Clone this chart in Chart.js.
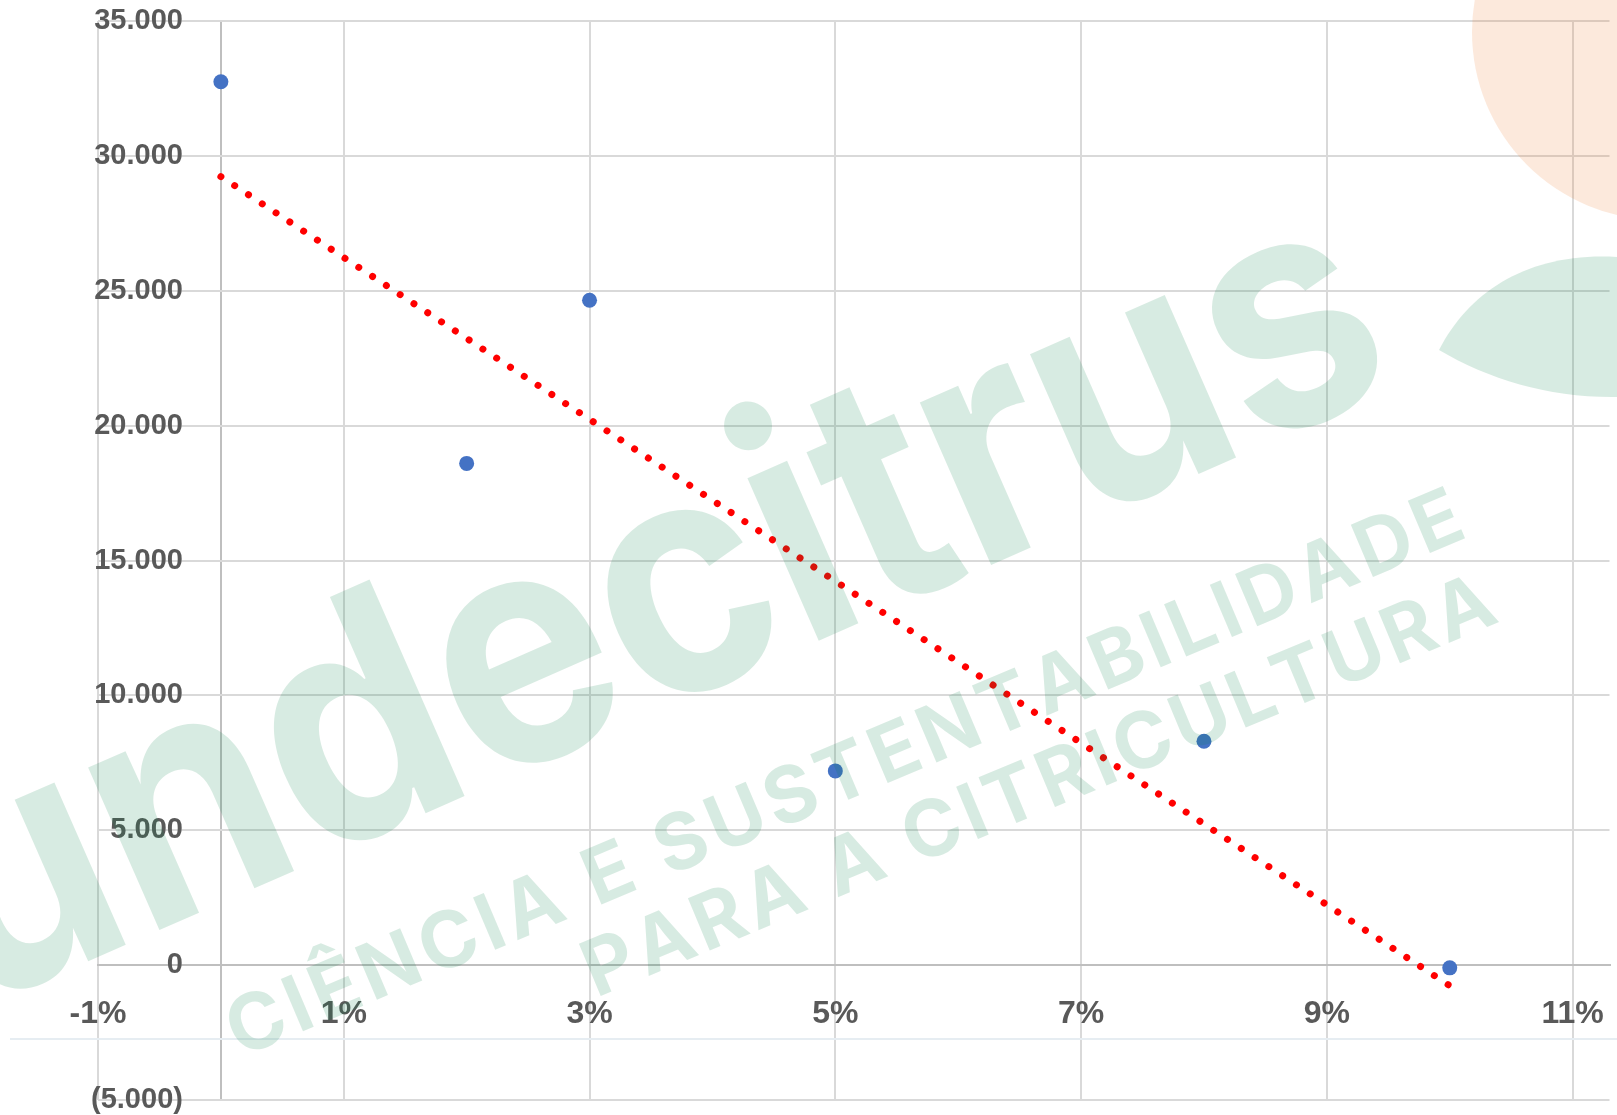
<!DOCTYPE html>
<html><head><meta charset="utf-8">
<script src="https://cdn.jsdelivr.net/npm/chart.js@4.4.0/dist/chart.umd.min.js"></script>
<style>html,body{margin:0;padding:0;background:#fff;overflow:hidden}</style>
</head><body>
<canvas id="c" width="1617" height="1115"></canvas>
<script>
// ---- data ----
const xValues = [0, 2, 3, 5, 8, 10];            // percent
const yValues = [32750, 18600, 24650, 7200, 8300, -100];
const xTicks = [-1, 1, 3, 5, 7, 9, 11];
const yTicks = [-5000, 0, 5000, 10000, 15000, 20000, 25000, 30000, 35000];

// least-squares trendline from the data
const n = xValues.length;
const mx = xValues.reduce((a, b) => a + b, 0) / n;
const my = yValues.reduce((a, b) => a + b, 0) / n;
let sxy = 0, sxx = 0;
for (let i = 0; i < n; i++) { sxy += (xValues[i] - mx) * (yValues[i] - my); sxx += (xValues[i] - mx) ** 2; }
const slope = sxy / sxx, icpt = my - slope * mx;
const xMin = Math.min(...xValues), xMax = Math.max(...xValues);
const trend = [{x: xMin, y: icpt + slope * xMin}, {x: xMax, y: icpt + slope * xMax}];

const fmtNum = v => { const s = Math.abs(v).toFixed(0).replace(/\B(?=(\d{3})+(?!\d))/g, '.'); return v < 0 ? '(' + s + ')' : s; };

const extras = {
  id: 'extras',
  beforeDatasetsDraw(chart) {
    const ctx = chart.ctx;
    ctx.save();
    ctx.strokeStyle = '#e6edf2'; ctx.lineWidth = 2;
    ctx.beginPath(); ctx.moveTo(10, 1039); ctx.lineTo(1617, 1039); ctx.stroke();
    ctx.restore();
  },
  afterDraw(chart) {
    const ctx = chart.ctx;
    const green = 'rgba(0,130,70,0.155)';
    ctx.save();
    // orange circle
    ctx.fillStyle = 'rgba(237,125,49,0.17)';
    ctx.beginPath(); ctx.arc(1660, 32, 188, 0, Math.PI * 2); ctx.fill();
    // leaf
    ctx.fillStyle = green;
    ctx.beginPath();
    ctx.moveTo(1439, 350);
    ctx.bezierCurveTo(1470, 290, 1530, 252, 1617, 257);
    ctx.lineTo(1617, 397);
    ctx.bezierCurveTo(1550, 398, 1490, 380, 1439, 350);
    ctx.fill();
    // big word
    ctx.save();
    ctx.translate(-9, 1004);
    ctx.rotate(-23.7 * Math.PI / 180);
    ctx.font = 'bold 325px Inter';
    const m = ctx.measureText('undecitrus');
    const ink = m.actualBoundingBoxLeft + m.actualBoundingBoxRight;
    ctx.scale(1535 / ink, 1);
    ctx.fillText('undecitrus', m.actualBoundingBoxLeft, 0);
    ctx.restore();
    // subtitles
    const spaced = (txt, x, y, ang, font, len) => {
      ctx.save();
      ctx.translate(x, y); ctx.rotate(-ang * Math.PI / 180);
      ctx.font = font;
      const widths = [...txt].map(ch => ctx.measureText(ch).width);
      const tot = widths.reduce((a, b) => a + b, 0);
      const gap = (len - tot) / (txt.length - 1);
      let px = 0;
      [...txt].forEach((ch, i) => { ctx.fillText(ch, px, 0); px += widths[i] + gap; });
      ctx.restore();
    };
    spaced('CIÊNCIA E SUSTENTABILIDADE', 240, 1058, 23, 'bold 78px Inter', 1335);
    spaced('PARA A CITRICULTURA', 596, 998, 22.6, 'bold 78px Inter', 980);
    ctx.restore();
  }
};

new Chart(document.getElementById('c'), {
  data: {
    datasets: [
      { type: 'scatter', data: xValues.map((x, i) => ({x, y: yValues[i]})),
        backgroundColor: '#4472c4', borderWidth: 0, pointRadius: 7.5, pointHoverRadius: 7.5 },
      { type: 'line', data: trend, borderColor: '#ff0000', borderWidth: 7,
        borderDash: [0.01, 16.5], borderCapStyle: 'round', pointRadius: 0, fill: false }
    ]
  },
  options: {
    responsive: false, animation: false, devicePixelRatio: 1,
    layout: { padding: { left: 98, right: 0, top: 21, bottom: 15 } },
    plugins: { legend: { display: false }, tooltip: { enabled: false } },
    scales: {
      x: {
        type: 'linear', min: -1, max: 11.30, position: { y: 0 },
        afterBuildTicks: s => { s.ticks = [-1, 0, ...xTicks.slice(1)].map(v => ({ value: v })); },
        grid: { color: c => (c.tick && c.tick.value === 0) ? '#bfbfbf' : '#d9d9d9', lineWidth: 2,
                drawTicks: true, tickLength: 30, tickColor: 'rgba(0,0,0,0)' },
        border: { color: '#bfbfbf', width: 2 },
        ticks: { color: '#595959', padding: 0, font: { family: 'Liberation Sans', weight: 'bold', size: 32, lineHeight: 1.2 },
                 callback: v => xTicks.includes(v) ? v + '%' : '' }
      },
      y: {
        type: 'linear', min: -5000, max: 35000, position: { x: -0.309 },
        afterBuildTicks: s => { s.ticks = yTicks.map(v => ({ value: v })); },
        grid: { color: c => (c.tick && c.tick.value === 0) ? 'rgba(0,0,0,0)' : '#d9d9d9', lineWidth: 2, drawTicks: false },
        border: { display: false },
        ticks: { color: '#595959', padding: 0, font: { family: 'Liberation Sans', weight: 'bold', size: 29, lineHeight: 1 },
                 callback: v => fmtNum(v) }
      }
    }
  },
  plugins: [extras]
});
</script>
</body></html>
